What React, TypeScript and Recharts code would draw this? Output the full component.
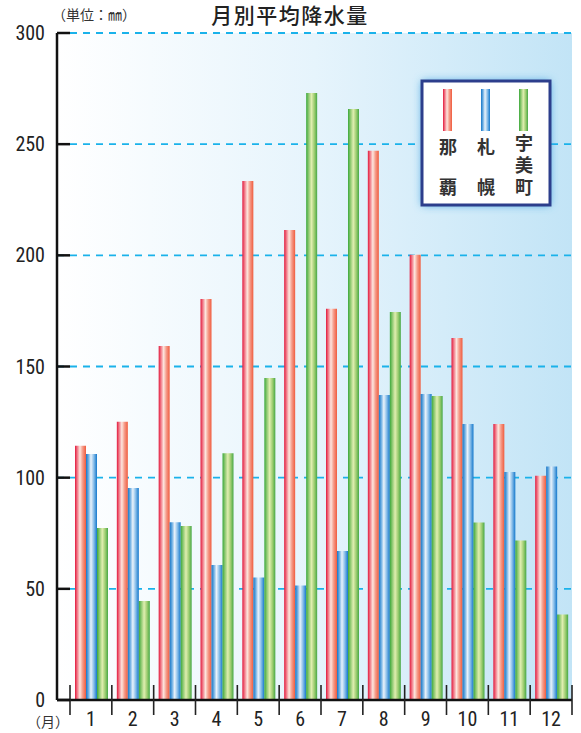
import React from 'react';
import { BarChart, Bar, XAxis, YAxis, CartesianGrid, Customized } from 'recharts';

const months = ['1', '2', '3', '4', '5', '6', '7', '8', '9', '10', '11', '12'];
const naha = [114.3, 125.2, 159.2, 180.4, 233.4, 211.4, 176.0, 247.0, 200.3, 162.8, 124.1, 100.9];
const sapporo = [110.6, 95.4, 80.0, 60.7, 55.1, 51.5, 67.0, 137.2, 137.6, 124.1, 102.5, 105.0];
const umi = [77.4, 44.5, 78.3, 111.0, 144.8, 273.0, 265.8, 174.5, 136.7, 79.8, 71.7, 38.4];
const yTicks = [0, 50, 100, 150, 200, 250, 300];
const seriesNames = ['那覇', '札幌', '宇美町'];

const data = months.map((m, i) => ({ month: m, naha: naha[i], sapporo: sapporo[i], umi: umi[i] }));

const BAND = (572 - 70) / 12;
const NUM_FONT = "'Liberation Sans Narrow', 'Roboto Condensed', 'Liberation Sans', Arial, sans-serif";
const CJK_FONT = "'Noto Sans CJK JP', 'Noto Sans', sans-serif";

const XTick = (props: any) => {
  const { x, y, payload, index } = props;
  return (
    <g>
      {index === 0 && (
        <line x1={x - BAND / 2} x2={x - BAND / 2} y1={y - 15} y2={y + 15} stroke="#222" strokeWidth={1.6} />
      )}
      <line x1={x + BAND / 2} x2={x + BAND / 2} y1={y - 15} y2={y + 15} stroke="#222" strokeWidth={1.6} />
      <text x={x} y={y + 26} textAnchor="middle" fontSize={20} fontFamily={NUM_FONT} fill="#222">
        {payload.value}
      </text>
    </g>
  );
};

const YTick = (props: any) => {
  const { x, y, payload } = props;
  return (
    <g>
      <line x1={x} x2={x + 13} y1={y} y2={y} stroke="#111" strokeWidth={2.5} />
      <text x={x - 12} y={y + 7} textAnchor="end" fontSize={20} fontFamily={NUM_FONT} fill="#222">
        {payload.value}
      </text>
    </g>
  );
};

const LegendChar = ({ x, y, ch }: { x: number; y: number; ch: string }) => (
  <text x={x} y={y} textAnchor="middle" fontSize={18} fontWeight={700} fontFamily={CJK_FONT} fill="#333">
    {ch}
  </text>
);

const Decorations = () => {
  const swatches = [
    { x: 443, fill: 'url(#gRed)', label: seriesNames[0], cx: 448 },
    { x: 481, fill: 'url(#gBlue)', label: seriesNames[1], cx: 486 },
    { x: 519, fill: 'url(#gGreen)', label: seriesNames[2], cx: 524 },
  ];
  return (
    <g>
      <defs>
        <filter id="glow" x="-30%" y="-30%" width="160%" height="160%">
          <feDropShadow dx="0" dy="0" stdDeviation="4" floodColor="#3fa2e0" floodOpacity="1" />
        </filter>
      </defs>
      <text x={290} y={23} textAnchor="middle" fontSize={21} fontWeight={500} letterSpacing={1.5} fontFamily={CJK_FONT} fill="#222">
        月別平均降水量
      </text>
      <text x={52} y={20} fontSize={14} fontFamily={CJK_FONT} fill="#333">
        （単位：㎜）
      </text>
      <text x={27} y={727} fontSize={14} fontFamily={CJK_FONT} fill="#333">
        （月）
      </text>
      <rect x={422} y={81} width={128} height={124} fill="#fff" filter="url(#glow)" />
      <rect x={422} y={81} width={128} height={124} fill="#fff" stroke="#2c3e8c" strokeWidth={3} />
      {swatches.map((s) => (
        <g key={s.label}>
          <rect x={s.x} y={89} width={9} height={42} fill={s.fill} />
          {s.label.length === 2 ? (
            <>
              <LegendChar x={s.cx} y={154} ch={s.label[0]} />
              <LegendChar x={s.cx} y={194} ch={s.label[1]} />
            </>
          ) : (
            <text
              x={s.cx}
              y={134}
              fontSize={18}
              fontWeight={700}
              fontFamily={CJK_FONT}
              fill="#333"
              letterSpacing={4}
              style={{ writingMode: 'vertical-rl' as any }}
            >
              {s.label}
            </text>
          )}
        </g>
      ))}
    </g>
  );
};

export default function App() {
  return (
    <div style={{ position: 'absolute', left: 0, top: 0, width: 581, height: 733, background: '#fff' }}>
      <svg width={0} height={0} style={{ position: 'absolute' }}>
        <defs>
          <linearGradient id="bgGrad" x1="0" y1="0" x2="1" y2="0">
            <stop offset="0" stopColor="#ffffff" />
            <stop offset="0.5" stopColor="#e6f4fc" />
            <stop offset="1" stopColor="#c2e4f6" />
          </linearGradient>
          <linearGradient id="gRed" x1="0" y1="0" x2="1" y2="0">
            <stop offset="0" stopColor="#e2183c" />
            <stop offset="0.2" stopColor="#f07584" />
            <stop offset="0.45" stopColor="#fde6de" />
            <stop offset="0.7" stopColor="#f59a88" />
            <stop offset="1" stopColor="#f05c3e" />
          </linearGradient>
          <linearGradient id="gBlue" x1="0" y1="0" x2="1" y2="0">
            <stop offset="0" stopColor="#1776c6" />
            <stop offset="0.2" stopColor="#62a8e0" />
            <stop offset="0.45" stopColor="#eaf3fb" />
            <stop offset="0.7" stopColor="#8cc0ea" />
            <stop offset="1" stopColor="#1478cc" />
          </linearGradient>
          <linearGradient id="gGreen" x1="0" y1="0" x2="1" y2="0">
            <stop offset="0" stopColor="#3aa83a" />
            <stop offset="0.22" stopColor="#8cc870" />
            <stop offset="0.48" stopColor="#e0eeb0" />
            <stop offset="0.75" stopColor="#9ccc70" />
            <stop offset="1" stopColor="#46a846" />
          </linearGradient>
        </defs>
      </svg>
      <BarChart
        width={581}
        height={733}
        data={data}
        margin={{ top: 33, right: 9, bottom: 0, left: 0 }}
        barCategoryGap={5}
        barGap={0}
      >
        <CartesianGrid
          horizontal={true}
          vertical={false}
          stroke="#1ab2ea"
          strokeWidth={1.8}
          strokeDasharray="7 6"
          fill="url(#bgGrad)"
          fillOpacity={1}
        />
        <Bar dataKey="naha" fill="url(#gRed)" isAnimationActive={false} />
        <Bar dataKey="sapporo" fill="url(#gBlue)" isAnimationActive={false} />
        <Bar dataKey="umi" fill="url(#gGreen)" isAnimationActive={false} />
        <XAxis
          dataKey="month"
          height={33}
          padding={{ left: 13, right: 0 }}
          axisLine={{ stroke: '#111', strokeWidth: 2.5 }}
          tickLine={false}
          tickSize={0}
          tickMargin={0}
          tick={<XTick />}
          interval={0}
        />
        <YAxis
          width={57}
          domain={[0, 300]}
          ticks={yTicks}
          axisLine={{ stroke: '#111', strokeWidth: 2.5 }}
          tickLine={false}
          tickSize={0}
          tickMargin={0}
          tick={<YTick />}
          interval={0}
        />
        <Customized component={Decorations} />
      </BarChart>
    </div>
  );
}
